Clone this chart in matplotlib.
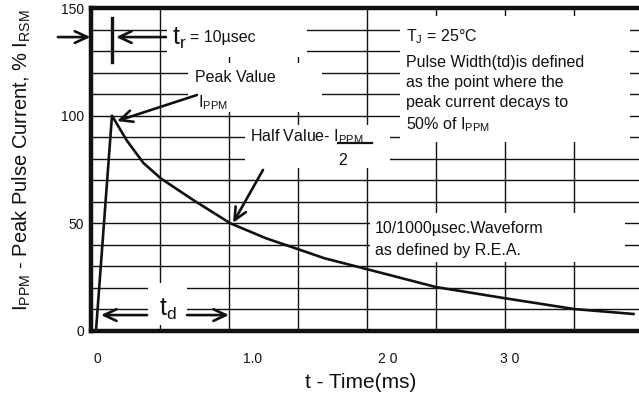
import matplotlib
matplotlib.use("Agg")
import matplotlib.pyplot as plt
from matplotlib.patches import Rectangle

plt.rcParams['font.family'] = ['Liberation Sans', 'DejaVu Sans']
plt.rcParams['mathtext.fontset'] = 'custom'
plt.rcParams['mathtext.rm'] = 'Liberation Sans'
plt.rcParams['mathtext.it'] = 'Liberation Sans:italic'

# pulse waveform (time in ms, current in % of I_PPM)
time_ms = [0.036, 0.152, 0.26, 0.38, 0.507, 0.746, 1.01, 1.27, 1.50, 1.69,
           2.0, 2.5, 2.99, 3.5, 3.93]
current_pct = [0, 100, 88.4, 78, 70.8, 60.6, 50, 43, 38, 33.8,
               28.7, 20.4, 15.3, 10.2, 7.9]

y_ticks = [0, 50, 100, 150]
x_tick_labels = ["0", "1.0", "2 0", "3 0"]
x_tick_pos = [0.043, 1.174, 2.152, 3.036]

INK = '#111111'
FS = 11.5

fig = plt.figure(figsize=(6.39, 3.98), dpi=100)
ax = fig.add_axes([91 / 639, 67 / 398, 548 / 639, 323 / 398])
ax.set_xlim(0, 3.97)
ax.set_ylim(0, 150)

# grid
ax.set_axisbelow(True)
for v in range(10, 150, 10):
    ax.axhline(v, color=INK, lw=1.0, zorder=0.5)
for t in [0.5, 1.0, 1.5, 2.0, 2.5, 3.0, 3.5]:
    ax.axvline(t, color=INK, lw=1.0, zorder=0.5)

# white areas behind the notes (t0, t1, v0, v1)
masks = [(0.55, 1.565, 127.3, 150), (0.70, 1.67, 101.7, 124.5),
         (1.116, 2.167, 75.7, 95.7), (2.24, 3.906, 87.8, 146.5),
         (2.02, 3.87, 32, 54.8), (0.413, 0.696, 2.8, 22.3)]
for t0, t1, v0, v1 in masks:
    ax.add_patch(Rectangle((t0, v0), t1 - t0, v1 - v0, facecolor='white',
                           edgecolor='none', zorder=1))

for s in ['left', 'top', 'bottom']:
    ax.spines[s].set_linewidth(3.2)
    ax.spines[s].set_color(INK)
ax.spines['right'].set_visible(False)

ax.plot(time_ms, current_pct, color=INK, lw=1.9, zorder=3, clip_on=False,
        solid_joinstyle='round')

ax.set_yticks(y_ticks)
ax.set_yticklabels([str(v) for v in y_ticks])
ax.set_xticks(x_tick_pos)
ax.set_xticklabels(x_tick_labels)
ax.tick_params(axis='y', length=0, pad=5, labelsize=10, labelcolor=INK)
ax.tick_params(axis='x', length=0, pad=15, labelsize=10, labelcolor=INK)

arrow = dict(arrowstyle='->,head_length=0.9,head_width=0.42', lw=1.9,
             color=INK, shrinkA=0, shrinkB=0)

# t_r marker
ax.plot([0.152, 0.152], [125, 145.4], color=INK, lw=2.4, zorder=3)
ax.annotate('', xy=(-0.004, 136.5), xytext=(-0.24, 136.5), arrowprops=arrow,
            annotation_clip=False, zorder=4)
ax.annotate('', xy=(0.181, 136.5), xytext=(0.543, 136.5), arrowprops=arrow,
            zorder=4)
ax.text(0.585, 136.0, r'$\mathregular{t_r}$', fontsize=18, va='center',
        color=INK, zorder=4)
ax.text(0.715, 136.5, '= 10µsec', fontsize=FS, va='center', color=INK,
        zorder=4)

# peak value
ax.text(0.754, 117.5, 'Peak Value', fontsize=FS, va='center', color=INK,
        zorder=4)
ax.text(0.775, 106.0, r'$\mathregular{I_{PPM}}$', fontsize=FS, va='center',
        color=INK, zorder=4)
ax.annotate('', xy=(0.188, 97.5), xytext=(0.768, 109.6), arrowprops=arrow,
            zorder=4)

# half value
ax.text(1.152, 90.1, r'Half Value- $\mathregular{I_{PPM}}$', fontsize=FS,
        va='center', color=INK, zorder=4)
ax.plot([1.79, 2.036], [87.3, 87.3], color=INK, lw=1.6, zorder=4)
ax.text(1.826, 79.4, '2', fontsize=FS, va='center', ha='center', color=INK,
        zorder=4)
ax.annotate('', xy=(1.029, 50.2), xytext=(1.246, 74.8), arrowprops=arrow,
            zorder=4)

# notes
notes = [r'$\mathregular{T_J}$ = 25°C', 'Pulse Width(td)is defined',
         'as the point where the', 'peak current decays to',
         r'50% of $\mathregular{I_{PPM}}$']
note_v = [136.6, 124.9, 115.6, 105.9, 95.7]
for s, v in zip(notes, note_v):
    ax.text(2.283, v, s, fontsize=FS, va='center', color=INK, zorder=4)

ax.text(2.058, 47.8, '10/1000µsec.Waveform', fontsize=FS, va='center',
        color=INK, zorder=4)
ax.text(2.058, 37.6, 'as defined by R.E.A.', fontsize=FS, va='center',
        color=INK, zorder=4)

# t_d marker
ax.text(0.555, 9.8, r'$\mathregular{t_d}$', fontsize=18, va='center',
        ha='center', color=INK, zorder=4)
ax.annotate('', xy=(0.072, 7.4), xytext=(0.406, 7.4), arrowprops=arrow,
            zorder=4)
ax.annotate('', xy=(1.0, 7.4), xytext=(0.696, 7.4), arrowprops=arrow,
            zorder=4)

fig.text(361 / 639, 1 - 383 / 398, 't - Time(ms)', fontsize=15,
         ha='center', va='center', color=INK)
fig.text(22 / 639, 1 - 160 / 398,
         r'$\mathregular{I_{PPM}}$ - Peak Pulse Current, % $\mathregular{I_{RSM}}$',
         fontsize=14.5, rotation=90, ha='center', va='center', color=INK)

fig.savefig('out.png', dpi=100)
